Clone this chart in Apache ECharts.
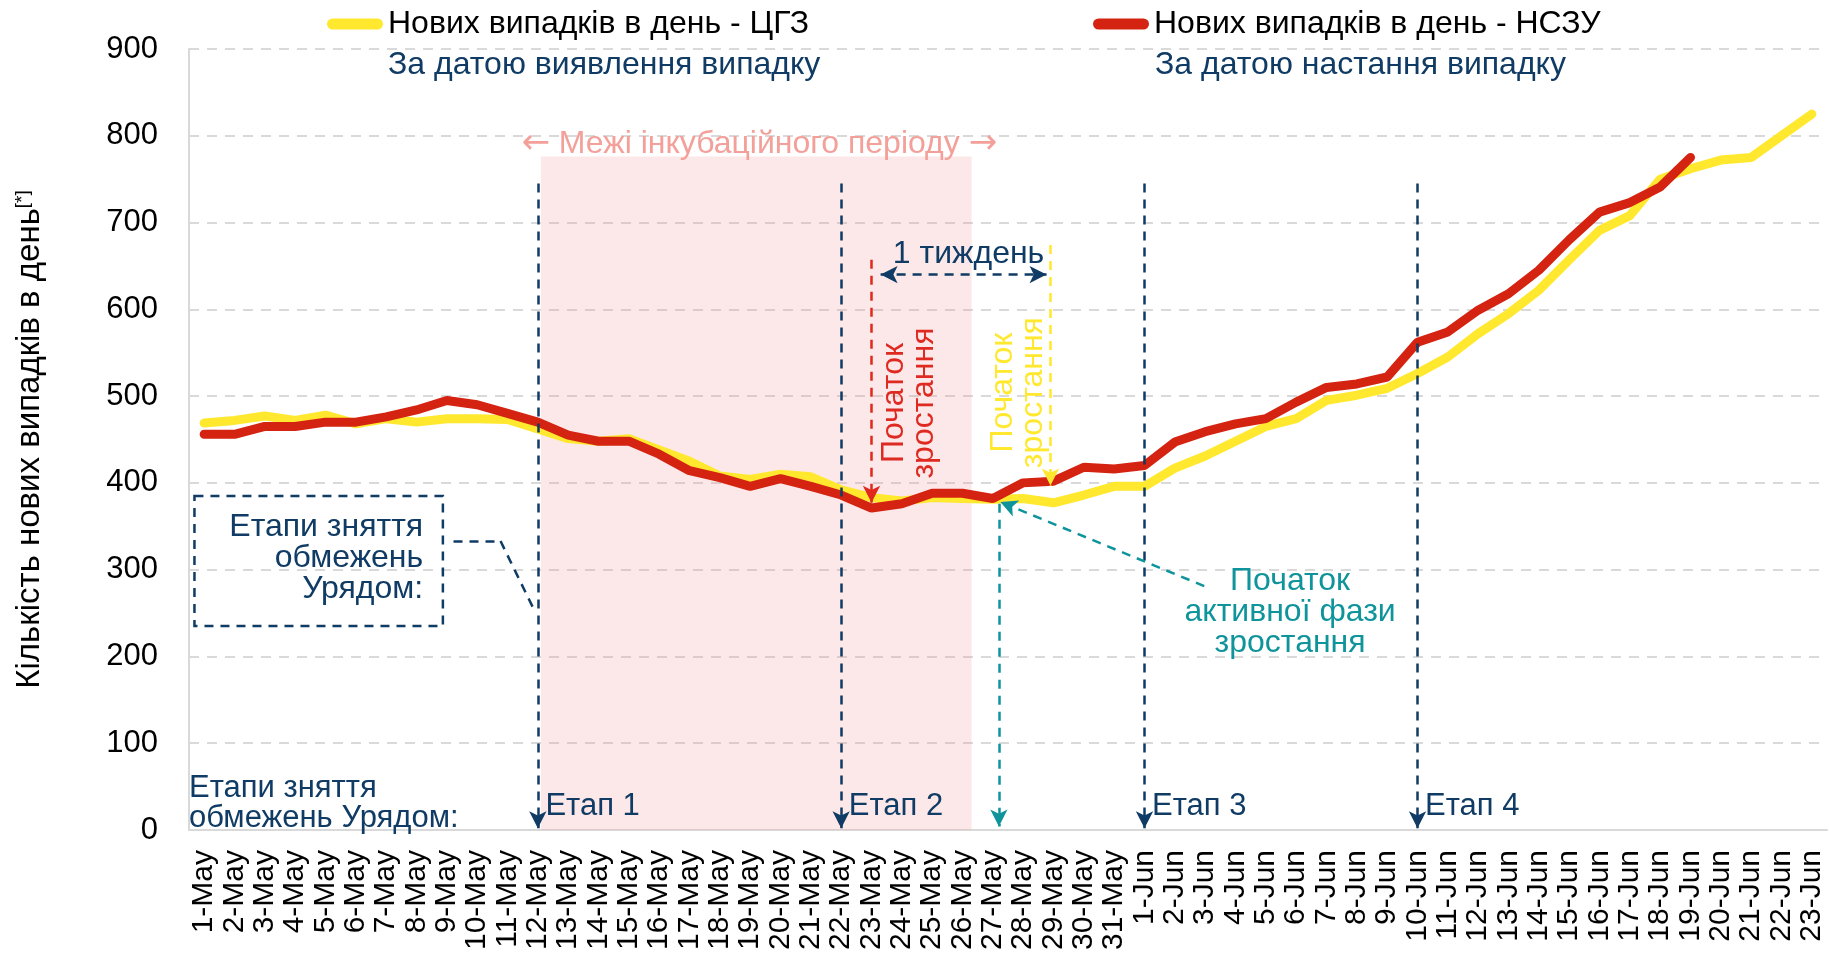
<!DOCTYPE html>
<html>
<head>
<meta charset="utf-8">
<script src="https://cdn.jsdelivr.net/npm/echarts@6/dist/echarts.min.js"></script>
<style>
  html, body { margin: 0; padding: 0; background: #fff; }
  #chart { width: 1829px; height: 953px; }
</style>
</head>
<body>
<div id="chart"></div>
<script>
// categories (daily, 1 May - 23 Jun)
const days = [
  '1-May', '2-May', '3-May', '4-May', '5-May', '6-May', '7-May', '8-May', '9-May', '10-May',
  '11-May', '12-May', '13-May', '14-May', '15-May', '16-May', '17-May', '18-May', '19-May', '20-May',
  '21-May', '22-May', '23-May', '24-May', '25-May', '26-May', '27-May', '28-May', '29-May', '30-May',
  '31-May', '1-Jun', '2-Jun', '3-Jun', '4-Jun', '5-Jun', '6-Jun', '7-Jun', '8-Jun', '9-Jun',
  '10-Jun', '11-Jun', '12-Jun', '13-Jun', '14-Jun', '15-Jun', '16-Jun', '17-Jun', '18-Jun', '19-Jun',
  '20-Jun', '21-Jun', '22-Jun', '23-Jun',
]

const seriesNames = ['Нових випадків в день - ЦГЗ', 'Нових випадків в день - НСЗУ']

// ЦГЗ - by date of detection
const cgzValues = [
  469, 472, 477, 472, 478, 468, 474, 470, 474, 474,
  473, 462, 451, 448, 451, 438, 425, 408, 404, 410,
  407, 392, 383, 379, 383, 382, 381, 382, 377, 386,
  396, 396, 417, 431, 448, 465, 474, 495, 501, 509,
  526, 545, 572, 595, 622, 657, 691, 708, 750, 762,
  772, 775, 800, 825,
]

// НСЗУ - by date of onset
const nszuValues = [
  456, 456, 465, 465, 470, 470, 476, 484, 495, 490,
  480, 470, 455, 448, 448, 433, 414, 406, 396, 405,
  396, 386, 371, 376, 388, 388, 382, 400, 402, 418,
  416, 420, 447, 459, 468, 474, 493, 510, 514, 522,
  562, 574, 599, 618, 645, 680, 712, 723, 741, 775,
  null, null, null, null,
]

const stageLabels = ['Етап 1', 'Етап 2', 'Етап 3', 'Етап 4']
const stageDays = ['12-May', '22-May', '1-Jun', '10-Jun']

const NAVY = '#0f3b64'
const TEAL = '#0f949c'
const YELLOW = '#ffe82e'
const RED = '#d52311'
const PINK = '#f4a09a'
const FONT = 'Liberation Sans, Arial, sans-serif'
const FS = 32

// helper x position (category centre) on the hidden value axis
const cx = name => days.indexOf(name) + 0.5

const seg = (x1, y1, x2, y2, startSym, endSym) => [
  { coord: [x1, y1], symbol: startSym || 'none' },
  { coord: [x2, y2], symbol: endSym || 'arrow' },
]

const guideSeries = (name, color, segments, z) => ({
  name,
  type: 'scatter',
  xAxisIndex: 1,
  data: [],
  z: z || 6,
  silent: true,
  markLine: {
    silent: true,
    animation: false,
    symbolSize: [13, 17],
    label: { show: false },
    lineStyle: { color, width: 2.5, type: [9, 7], opacity: 1 },
    data: segments,
  },
})

const textItem = (x, y, text, color, extra) => ({
  value: [x, y],
  label: Object.assign({ formatter: text, color, fontSize: FS, fontFamily: FONT }, extra || {}),
})

const stageSegments = stageDays.map(d => seg(cx(d), 745, cx(d), 2))
const stageTexts = stageDays.map((d, i) =>
  textItem(cx(d) + 0.25, 27, stageLabels[i], NAVY, { align: 'left', fontSize: 31 }))

const legendIcon = 'path://M5,0 L45,0 A5,5 0 0 1 45,10 L5,10 A5,5 0 0 1 5,0 Z'

const option = {
  animation: false,
  textStyle: { fontFamily: FONT },
  title: [
    {
      text: 'За датою виявлення випадку',
      left: 388, top: 49, padding: 0,
      textStyle: { fontSize: FS, color: NAVY, fontWeight: 'normal', fontFamily: FONT },
    },
    {
      text: 'За датою настання випадку',
      left: 1155, top: 49, padding: 0,
      textStyle: { fontSize: FS, color: NAVY, fontWeight: 'normal', fontFamily: FONT },
    },
  ],
  legend: [
    {
      data: [seriesNames[0]], left: 327, top: 8, padding: 0,
      itemWidth: 56, itemHeight: 12, itemGap: 0,
      icon: legendIcon,
      textStyle: { fontSize: FS, color: '#000', fontFamily: FONT },
    },
    {
      data: [seriesNames[1]], left: 1093, top: 8, padding: 0,
      itemWidth: 56, itemHeight: 12, itemGap: 0,
      icon: legendIcon,
      textStyle: { fontSize: FS, color: '#000', fontFamily: FONT },
    },
  ],
  grid: { left: 189, right: 2, top: 49, bottom: 123 },
  xAxis: [
    {
      type: 'category',
      data: days,
      boundaryGap: true,
      axisLine: { lineStyle: { color: '#d9d9d9', width: 2 } },
      axisTick: { show: false },
      axisLabel: { rotate: 90, interval: 0, fontSize: 30, color: '#000', margin: 20, fontFamily: FONT },
    },
    { type: 'value', min: 0, max: 54, show: false },
  ],
  yAxis: {
    type: 'value',
    min: 0,
    max: 900,
    interval: 100,
    name: 'Кількість нових випадків в день{sup|[*]}',
    nameLocation: 'middle',
    nameRotate: 90,
    nameGap: 143,
    nameTextStyle: {
      fontSize: 33, color: '#000', fontFamily: FONT,
      rich: { sup: { fontSize: 19, verticalAlign: 'top', color: '#000', fontFamily: FONT } },
    },
    axisLine: { show: true, lineStyle: { color: '#d9d9d9', width: 2 } },
    axisTick: { show: false },
    axisLabel: { fontSize: 31, color: '#000', margin: 31, fontFamily: FONT },
    splitLine: { lineStyle: { color: '#d9d9d9', width: 2, type: [10, 8] } },
  },
  series: [
    // incubation period band + dashed box (background)
    {
      type: 'scatter',
      xAxisIndex: 1,
      data: [],
      z: 1,
      silent: true,
      markArea: {
        silent: true,
        data: [
          [{ coord: [11.6, 776], itemStyle: { color: 'rgba(240,150,150,0.22)' } }, { coord: [25.8, 0] }],
          [
            { coord: [0.18, 385], itemStyle: { color: 'rgba(0,0,0,0)', borderColor: NAVY, borderWidth: 2.5, borderType: [9, 7] } },
            { coord: [8.37, 235] },
          ],
        ],
      },
    },
    {
      name: seriesNames[0],
      type: 'line',
      data: cgzValues,
      color: YELLOW,
      showSymbol: false,
      z: 3,
      lineStyle: { width: 9, color: YELLOW, cap: 'round' },
    },
    {
      name: seriesNames[1],
      type: 'line',
      data: nszuValues,
      color: RED,
      showSymbol: false,
      z: 4,
      lineStyle: { width: 9, color: RED, cap: 'round' },
    },
    guideSeries('stages', NAVY, stageSegments.concat([
      seg(8.72, 333, 10.27, 333, 'none', 'none'),
      seg(10.27, 333, 11.4, 252, 'none', 'none'),
      seg(22.8, 640, 28.27, 640, 'arrow', 'arrow'),
    ])),
    guideSeries('red', '#e0281d', [seg(cx('23-May'), 657, cx('23-May'), 377)]),
    guideSeries('yellow', YELLOW, [seg(28.4, 674, 28.4, 397)]),
    guideSeries('teal', TEAL, [
      seg(26.7, 376, 26.7, 4),
      seg(33.47, 281, 26.75, 378),
    ]),
    // text annotations
    {
      type: 'scatter',
      xAxisIndex: 1,
      symbolSize: 0,
      z: 7,
      silent: true,
      itemStyle: { opacity: 1 },
      label: { show: true, position: 'inside', opacity: 1 },
      data: [
        textItem(18.8, 790, '{a|←} Межі інкубаційного періоду {a|→}', PINK, {
          rich: { a: { fontFamily: 'DejaVu Sans', fontSize: 34, color: PINK } },
        }),
        textItem(25.7, 664, '1 тиждень', NAVY),
        textItem(23.75, 492, 'Початок\nзростання', '#df2a22', { rotate: 90, lineHeight: 30 }),
        textItem(27.35, 504, 'Початок\nзростання', YELLOW, { rotate: 90, lineHeight: 30 }),
        textItem(36.3, 251, 'Початок\nактивної фази\nзростання', TEAL, { lineHeight: 31, align: 'center' }),
        textItem(7.72, 313, 'Етапи зняття\nобмежень\nУрядом:', NAVY, { lineHeight: 31, align: 'right' }),
        textItem(0.0, 30, 'Етапи зняття\nобмежень Урядом:', NAVY, { lineHeight: 30, align: 'left', fontSize: 31 }),
      ].concat(stageTexts),
    },
  ],
}

const chart = echarts.init(document.getElementById('chart'))
chart.setOption(option)
</script>
</body>
</html>
